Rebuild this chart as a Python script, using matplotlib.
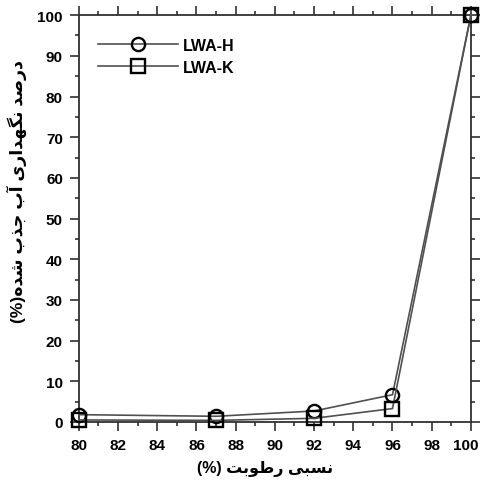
import matplotlib
matplotlib.use("Agg")
import matplotlib.pyplot as plt
import matplotlib.transforms as mtransforms
from matplotlib.ticker import MultipleLocator

# relative humidity (%) and retained water (%)
humidity = [80, 87, 92, 96, 100]
lwa_h = [1.8, 1.4, 2.7, 6.7, 100]
lwa_k = [0.5, 0.4, 0.9, 3.3, 100]
series_names = ["LWA-H", "LWA-K"]
x_ticks = list(range(80, 101, 2))
y_ticks = list(range(0, 101, 10))

# Persian presentation forms (isolated, final, initial, medial)
FORMS = {
    'ا': ('\uFE8D', '\uFE8E'),
    'آ': ('\uFE81', '\uFE82'),
    'ب': ('\uFE8F', '\uFE90', '\uFE91', '\uFE92'),
    'ت': ('\uFE95', '\uFE96', '\uFE97', '\uFE98'),
    'ج': ('\uFE9D', '\uFE9E', '\uFE9F', '\uFEA0'),
    'د': ('\uFEA9', '\uFEAA'),
    'ذ': ('\uFEAB', '\uFEAC'),
    'ر': ('\uFEAD', '\uFEAE'),
    'س': ('\uFEB1', '\uFEB2', '\uFEB3', '\uFEB4'),
    'ش': ('\uFEB5', '\uFEB6', '\uFEB7', '\uFEB8'),
    'ص': ('\uFEB9', '\uFEBA', '\uFEBB', '\uFEBC'),
    'ط': ('\uFEC1', '\uFEC2', '\uFEC3', '\uFEC4'),
    'ن': ('\uFEE5', '\uFEE6', '\uFEE7', '\uFEE8'),
    'ه': ('\uFEE9', '\uFEEA', '\uFEEB', '\uFEEC'),
    'و': ('\uFEED', '\uFEEE'),
    'ی': ('\uFBFC', '\uFBFD', '\uFBFE', '\uFBFF'),
    'گ': ('\uFB92', '\uFB93', '\uFB94', '\uFB95'),
}


def shape_word(word):
    """Join the letters of one Persian word and return it in visual order."""
    out = []
    for i, ch in enumerate(word):
        f = FORMS[ch]
        prev = word[i - 1] if i > 0 else None
        nxt = word[i + 1] if i + 1 < len(word) else None
        jp = prev is not None and len(FORMS[prev]) == 4
        jn = nxt is not None and len(f) == 4
        if jp and jn:
            out.append(f[3])
        elif jp:
            out.append(f[1])
        elif jn:
            out.append(f[2])
        else:
            out.append(f[0])
    return "".join(reversed(out))


def shape_line(words):
    return " ".join(shape_word(w) for w in words)


x_label = "(%) " + shape_line(["رطوبت", "نسبی"])
y_label = "(%)" + shape_line(["شده", "جذب", "آب", "نگهداری", "درصد"])

fig = plt.figure(figsize=(4.81, 4.89), dpi=100)
ax = fig.add_axes([0.164, 0.135, 0.815, 0.832])

line_kw = dict(color="#505050", linewidth=1.2, markersize=9.5, markeredgewidth=1.7,
               markeredgecolor="black", markerfacecolor="none", clip_on=False)
ax.plot(humidity, lwa_h, marker="o", label=series_names[0], zorder=3, **line_kw)
ax.plot(humidity, lwa_k, marker="s", label=series_names[1], zorder=3, **line_kw)

ax.set_xlim(80, 100)
ax.set_ylim(0, 100)
ax.set_xticks(x_ticks)
ax.set_yticks(y_ticks)
ax.xaxis.set_minor_locator(MultipleLocator(1))
ax.yaxis.set_minor_locator(MultipleLocator(5))
ax.tick_params(which="both", direction="out", top=True, right=True, width=1.2,
               color="#303030", pad=5)
ax.tick_params(which="major", length=6.5)
ax.tick_params(which="minor", length=3)
for lab in ax.get_xticklabels() + ax.get_yticklabels():
    lab.set_fontfamily(["Liberation Sans", "DejaVu Sans"])
    lab.set_fontweight("bold")
    lab.set_fontsize(11)
# keep the last x label inside the picture, as in the source image
last = ax.get_xticklabels()[-1]
last.set_transform(last.get_transform() +
                   mtransforms.ScaledTranslation(-5 / 100, 0, fig.dpi_scale_trans))
for sp in ax.spines.values():
    sp.set_linewidth(1.3)
    sp.set_color("#303030")

ax.set_xlabel(x_label, family=["Liberation Sans", "DejaVu Sans"], fontweight="bold",
              fontsize=11.5)
ax.set_ylabel(y_label, family=["Liberation Sans", "DejaVu Sans"], fontweight="bold",
              fontsize=12.5)
ax.xaxis.set_label_coords(0.475, -0.093)
ax.yaxis.set_label_coords(-0.133, 0.57)

leg = ax.legend(loc="upper left", bbox_to_anchor=(0.012, 0.98), frameon=False,
                numpoints=1, handlelength=5.0, handletextpad=0.3, labelspacing=0.45,
                prop={"family": "Liberation Sans", "weight": "bold", "size": 11.5})

fig.savefig("out.png", dpi=100)
